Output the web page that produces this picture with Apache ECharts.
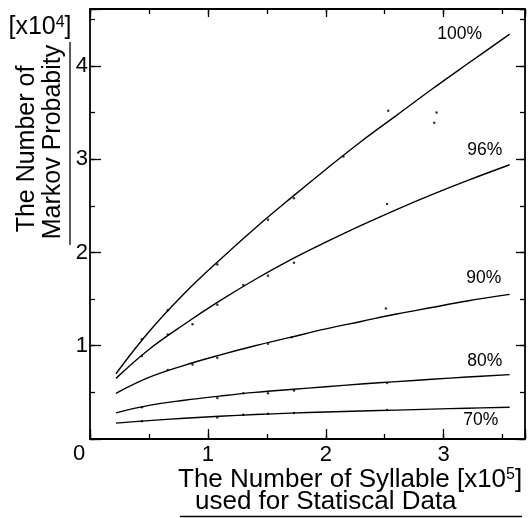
<!DOCTYPE html>
<html>
<head>
<meta charset="utf-8">
<script src="https://cdn.jsdelivr.net/npm/echarts@6/dist/echarts.min.js"></script>
<style>
  html, body { margin: 0; padding: 0; background: #fff; }
  #chart { width: 528px; height: 518px; }
</style>
</head>
<body>
<div id="chart"></div>
<script>
// 数据 (x: 音节数 x10^5, y: マルコフ確率数 x10^4)
var xVals = [0.22, 0.5, 0.8, 1.1, 1.4, 1.7, 2.0, 2.3, 2.6, 2.9, 3.2, 3.56];
var p100 = [0.70, 1.15, 1.56, 1.92, 2.26, 2.58, 2.89, 3.19, 3.47, 3.75, 4.02, 4.34];
var p96 = [0.65, 0.96, 1.23, 1.48, 1.71, 1.92, 2.11, 2.29, 2.46, 2.62, 2.77, 2.94];
var p90 = [0.49, 0.66, 0.79, 0.90, 1.00, 1.09, 1.18, 1.26, 1.34, 1.41, 1.48, 1.55];
var p80 = [0.28, 0.36, 0.415, 0.46, 0.50, 0.53, 0.56, 0.59, 0.615, 0.64, 0.665, 0.69];
var p70 = [0.17, 0.197, 0.222, 0.244, 0.262, 0.277, 0.29, 0.30, 0.31, 0.32, 0.33, 0.34];
var seriesNames = ["100%", "96%", "90%", "80%", "70%"];
// 曲线旁的观测点
var dots = [
  [0.44, 1.07], [0.66, 1.38], [1.08, 1.87], [1.51, 2.35], [1.73, 2.58], [2.15, 3.03],
  [2.53, 3.52], [2.94, 3.50], [2.92, 3.39],
  [0.44, 0.89], [0.66, 1.12], [0.87, 1.23], [1.08, 1.44], [1.30, 1.65], [1.51, 1.75],
  [1.73, 1.89], [2.52, 2.52],
  [0.66, 0.74], [0.87, 0.80], [1.08, 0.87], [1.51, 1.02], [1.71, 1.09], [2.51, 1.40],
  [0.44, 0.34], [1.08, 0.44], [1.30, 0.49], [1.51, 0.49], [1.73, 0.52], [2.52, 0.60],
  [0.44, 0.19], [1.08, 0.23], [1.30, 0.26], [1.51, 0.27], [1.73, 0.28], [2.52, 0.31]
];
var xMax = 3.69;
var yMax = 4.61;

(function () {
  var myChart = echarts.init(document.getElementById("chart"));
  var font = "'Liberation Sans', Arial, Helvetica, sans-serif";
  var allData = [p100, p96, p90, p80, p70];
  // 标签偏移
  var labelOffset = [[-50, 0], [-25, -15], [-26, -16], [-25, -13], [-29, 13]];

  function pairs(ys) {
    return xVals.map(function (x, i) {
      return [x, ys[i]];
    });
  }

  function axisBase(pos, interval, tickLen, showLine, showLabel, max, margin) {
    return {
      type: "value",
      position: pos,
      min: 0,
      max: max,
      interval: interval,
      axisLine: { show: showLine, onZero: false, lineStyle: { color: "#000", width: 1.8 } },
      axisTick: { show: true, inside: true, length: tickLen, lineStyle: { color: "#000", width: 1.3 } },
      axisLabel: {
        show: showLabel,
        color: "#000",
        fontSize: 22,
        fontFamily: font,
        margin: margin || 4,
        formatter: function (v) {
          return v > 0 && Math.abs(v - Math.round(v)) < 1e-6 ? String(Math.round(v)) : "";
        },
      },
      splitLine: { show: false },
    };
  }

  var series = allData.map(function (ys, i) {
    var last = ys.length - 1;
    return {
      name: seriesNames[i],
      type: "line",
      smooth: 0.4,
      showSymbol: false,
      lineStyle: { color: "#000", width: 1.4 },
      data: pairs(ys),
      markPoint: {
        symbol: "circle",
        symbolSize: 1,
        itemStyle: { color: "rgba(0,0,0,0)" },
        data: [{ name: seriesNames[i], coord: [xVals[last], ys[last]] }],
        label: {
          show: true,
          position: "inside",
          offset: labelOffset[i],
          formatter: "{b}",
          color: "#000",
          fontSize: 17.5,
          fontFamily: font,
        },
      },
    };
  });
  series.push({
    name: "dots",
    type: "scatter",
    symbolSize: 2.5,
    itemStyle: { color: "#000" },
    data: dots,
  });

  var option = {
    animation: false,
    backgroundColor: "#fff",
    grid: { left: 90, right: 3, top: 9, bottom: 79, containLabel: false },
    xAxis: [
      axisBase("bottom", 0.5, 5, true, true, xMax, 5),
      axisBase("bottom", 1, 10, false, false, xMax),
      axisBase("top", 0.5, 5, true, false, xMax),
      axisBase("top", 1, 8, false, false, xMax),
    ],
    yAxis: [
      axisBase("left", 0.5, 5, true, true, yMax, 2),
      axisBase("left", 1, 11, false, false, yMax),
      axisBase("right", 0.5, 5, true, false, yMax),
      axisBase("right", 1, 9, false, false, yMax),
    ],
    series: series,
    graphic: [
      {
        type: "text",
        x: 40,
        y: 27,
        style: {
          text: "[x10{sup|4}]",
          font: "25px " + font,
          fill: "#000",
          align: "center",
          verticalAlign: "middle",
          rich: { sup: { fontSize: 16, verticalAlign: "top", fontFamily: font, fill: "#000" } },
        },
      },
      {
        type: "text",
        x: 27,
        y: 149,
        rotation: Math.PI / 2,
        style: { text: "The Number of", font: "25px " + font, fill: "#000", align: "center", verticalAlign: "middle" },
      },
      {
        type: "text",
        x: 53,
        y: 142,
        rotation: Math.PI / 2,
        style: { text: "Markov Probabity", font: "25px " + font, fill: "#000", align: "center", verticalAlign: "middle" },
      },
      {
        type: "line",
        shape: { x1: 70, y1: 42, x2: 70, y2: 245 },
        style: { stroke: "#000", lineWidth: 1.3 },
      },
      {
        type: "text",
        x: 79,
        y: 454,
        style: { text: "0", font: "22px " + font, fill: "#000", align: "center", verticalAlign: "middle" },
      },
      {
        type: "text",
        x: 178,
        y: 480,
        style: {
          text: "The Number of Syllable [x10{sup|5}]",
          font: "26px " + font,
          fill: "#000",
          align: "left",
          verticalAlign: "middle",
          rich: { sup: { fontSize: 16, verticalAlign: "top", fontFamily: font, fill: "#000" } },
        },
      },
      {
        type: "text",
        x: 195,
        y: 502,
        style: { text: "used for Statiscal Data", font: "26px " + font, fill: "#000", align: "left", verticalAlign: "middle" },
      },
      {
        type: "line",
        shape: { x1: 180, y1: 516.5, x2: 522, y2: 516.5 },
        style: { stroke: "#000", lineWidth: 1.3 },
      },
    ],
  };

  myChart.setOption(option);
  window.addEventListener("resize", function () {
    myChart.resize();
  });
})();
</script>
</body>
</html>
